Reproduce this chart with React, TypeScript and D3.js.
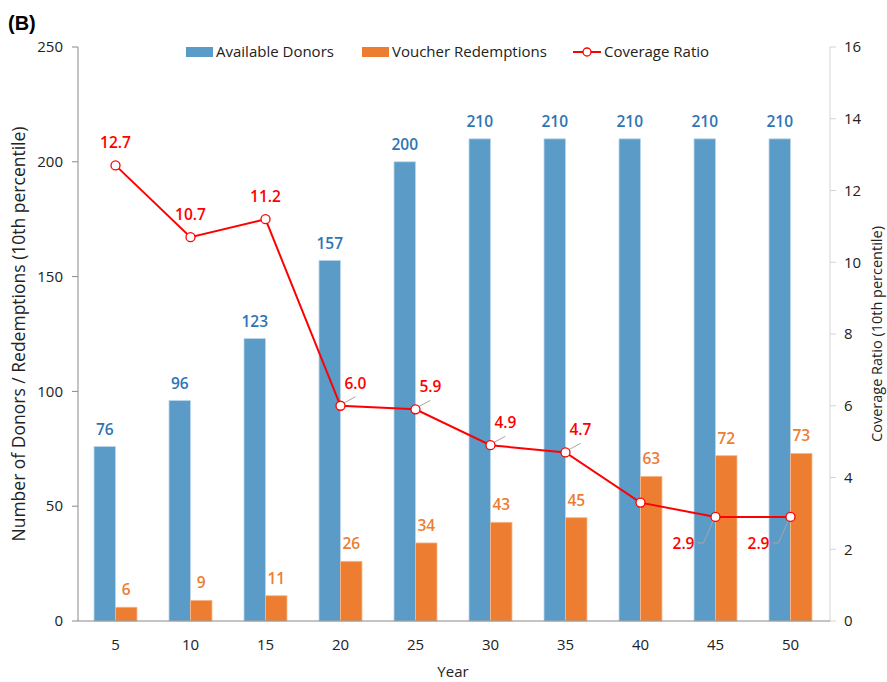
import * as d3 from "d3";

// chart data
const years = ["5", "10", "15", "20", "25", "30", "35", "40", "45", "50"];
const donors = [76, 96, 123, 157, 200, 210, 210, 210, 210, 210];
const redemptions = [6, 9, 11, 26, 34, 43, 45, 63, 72, 73];
const coverage = [12.7, 10.7, 11.2, 6.0, 5.9, 4.9, 4.7, 3.3, 2.9, 2.9];
// where the coverage label goes for each point
const coverageLabelSide = ["top", "top", "top", "right", "right", "right", "right", "none", "left", "left"];
const leftTicks = [0, 50, 100, 150, 200, 250];
const rightTicks = [0, 2, 4, 6, 8, 10, 12, 14, 16];

const W = 887;
const H = 682;
const margin = { left: 78, right: 57, top: 47, bottom: 61 };

const BLUE = "#5a9bc7";
const ORANGE = "#ed7d31";
const BLUE_TXT = "#2e74b5";
const RED = "#ff0000";
const FONT = "'Open Sans', 'Noto Sans', sans-serif";

const App = () => {
  const x0 = margin.left;
  const x1 = W - margin.right - 2;
  const yBottom = H - margin.bottom;

  const x = d3.scaleBand<string>().domain(years).range([x0, x1]).paddingInner(0.427).paddingOuter(0.2135);
  const xSub = d3.scaleBand<string>().domain(["d", "r"]).range([0, x.bandwidth()]);
  const y = d3.scaleLinear().domain([0, 250]).range([yBottom, margin.top]);
  const y2 = d3.scaleLinear().domain([0, 16]).range([yBottom, margin.top]);

  const cx = (yr: string) => (x(yr) ?? 0) + x.bandwidth() / 2;

  const line = d3
    .line<number>()
    .x((_d, i) => cx(years[i]))
    .y((d) => y2(d));

  return (
    <svg width={W} height={H} style={{ position: "absolute", left: 0, top: 0, background: "#fff" }} fontFamily={FONT}>
      <text x={8} y={30} fontSize={20} fontWeight="bold" fontFamily="Arial, 'Liberation Sans', sans-serif">
        (B)
      </text>

      {/* bars */}
      {years.map((yr, i) => (
        <g key={yr}>
          <rect
            x={(x(yr) ?? 0) + (xSub("d") ?? 0)}
            y={y(donors[i])}
            width={xSub.bandwidth()}
            height={yBottom - y(donors[i])}
            fill={BLUE}
            stroke="#bcd6ea"
            strokeWidth={0.8}
          />
          <rect
            x={(x(yr) ?? 0) + (xSub("r") ?? 0)}
            y={y(redemptions[i])}
            width={xSub.bandwidth()}
            height={yBottom - y(redemptions[i])}
            fill={ORANGE}
            stroke="#f6b98f"
            strokeWidth={0.8}
          />
          <text
            x={(x(yr) ?? 0) + (xSub("d") ?? 0) + xSub.bandwidth() / 2}
            y={y(donors[i]) - 12}
            textAnchor="middle"
            fontSize={15.5}
            fontWeight={600}
            fill={BLUE_TXT}
          >
            {donors[i]}
          </text>
          <text
            x={(x(yr) ?? 0) + (xSub("r") ?? 0) + xSub.bandwidth() / 2}
            y={y(redemptions[i]) - 12}
            textAnchor="middle"
            fontSize={15.5}
            fontWeight={600}
            fill={ORANGE}
          >
            {redemptions[i]}
          </text>
        </g>
      ))}

      {/* left axis */}
      <line x1={x0} x2={x0} y1={margin.top} y2={yBottom} stroke="#898989" />
      {leftTicks.map((t) => (
        <g key={t}>
          <line x1={x0 - 6} x2={x0} y1={y(t)} y2={y(t)} stroke="#898989" />
          <text x={x0 - 15} y={y(t)} dy="0.35em" textAnchor="end" fontSize={15} fill="#222">
            {t}
          </text>
        </g>
      ))}
      <text
        transform={`translate(19, ${(margin.top + yBottom) / 2}) rotate(-90)`}
        textAnchor="middle"
        dy="0.35em"
        fontSize={17.5}
        fill="#222"
      >
        Number of Donors / Redemptions (10th percentile)
      </text>

      {/* right axis */}
      <line x1={x1 + 2} x2={x1 + 2} y1={margin.top} y2={yBottom} stroke="#d4d4d4" />
      {rightTicks.map((t) => (
        <g key={t}>
          <line x1={x1 + 2} x2={x1 + 8} y1={y2(t)} y2={y2(t)} stroke="#d4d4d4" />
          <text x={x1 + 16} y={y2(t)} dy="0.35em" textAnchor="start" fontSize={15} fill="#222">
            {t}
          </text>
        </g>
      ))}
      <text
        transform={`translate(877, ${(margin.top + yBottom) / 2}) rotate(-90)`}
        textAnchor="middle"
        dy="0.35em"
        fontSize={14.5}
        fill="#222"
      >
        Coverage Ratio (10th percentile)
      </text>

      {/* bottom axis */}
      <line x1={x0} x2={x1 + 2} y1={yBottom} y2={yBottom} stroke="#898989" />
      {years.map((yr) => (
        <text key={yr} x={cx(yr)} y={yBottom + 29} textAnchor="middle" fontSize={15} fill="#222">
          {yr}
        </text>
      ))}
      <text x={(x0 + x1) / 2} y={677} textAnchor="middle" fontSize={15} fill="#222">
        Year
      </text>

      {/* coverage line */}
      <path d={line(coverage) ?? ""} fill="none" stroke={RED} strokeWidth={2} />
      {coverage.map((v, i) => {
        const px = cx(years[i]);
        const py = y2(v);
        const side = coverageLabelSide[i];
        return (
          <g key={i}>
            {side === "right" && (
              <line x1={px + 2} y1={py - 2} x2={px + 15} y2={py - 9} stroke="#a6a6a6" strokeWidth={1} />
            )}
            {side === "left" && (
              <polyline
                points={`${px - 2},${py + 3} ${px - 12},${py + 26} ${px - 18},${py + 26}`}
                fill="none"
                stroke="#a6a6a6"
                strokeWidth={1}
              />
            )}
            <circle cx={px} cy={py} r={4.5} fill="#fff" stroke={RED} strokeWidth={1.3} />
            {side !== "none" && (
              <text
                x={side === "top" ? px : side === "right" ? px + 4 : px - 21}
                y={side === "top" ? py - 17 : side === "right" ? py - 17 : py + 32}
                textAnchor={side === "top" ? "middle" : side === "right" ? "start" : "end"}
                fontSize={15.5}
                fontWeight={600}
                fill={RED}
              >
                {v.toFixed(1)}
              </text>
            )}
          </g>
        );
      })}

      {/* legend */}
      <g fontSize={15} fill="#222">
        <rect x={186} y={47} width={27} height={10} fill={BLUE} />
        <text x={216} y={52} dy="0.35em">
          Available Donors
        </text>
        <rect x={362} y={47} width={27} height={10} fill={ORANGE} />
        <text x={392} y={52} dy="0.35em">
          Voucher Redemptions
        </text>
        <line x1={573} x2={601} y1={52} y2={52} stroke={RED} strokeWidth={2} />
        <circle cx={587} cy={52} r={4} fill="#fff" stroke={RED} strokeWidth={1.3} />
        <text x={604} y={52} dy="0.35em">
          Coverage Ratio
        </text>
      </g>
    </svg>
  );
};

export default App;
